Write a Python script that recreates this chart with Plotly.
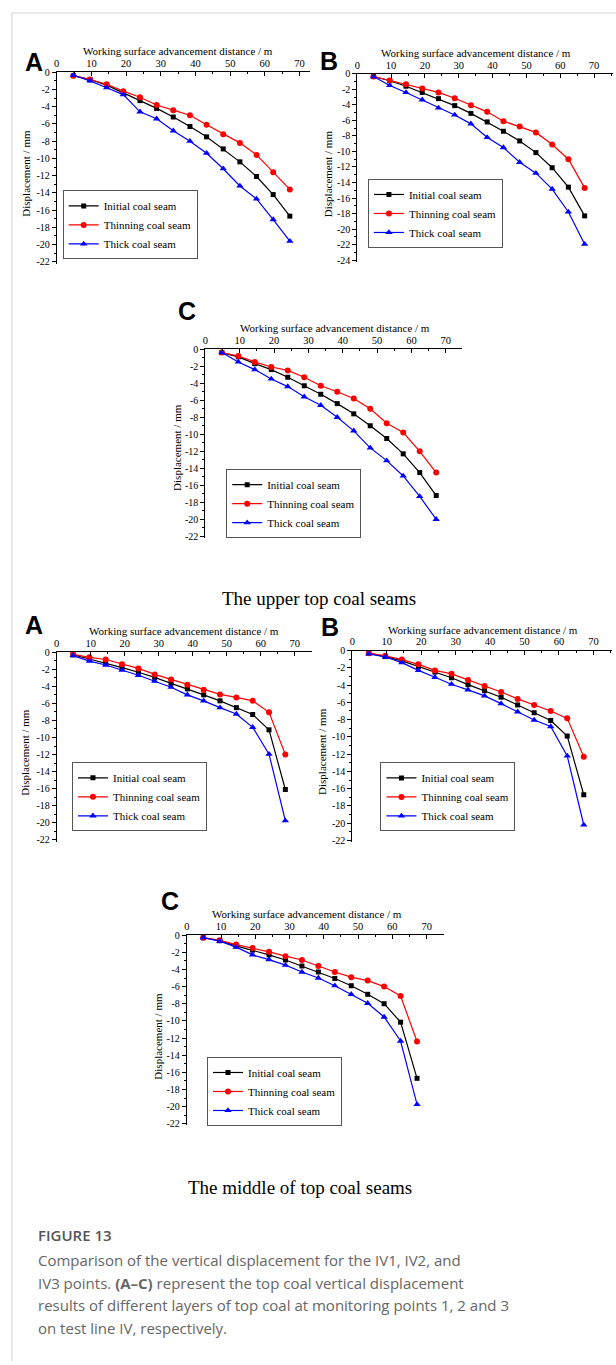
import plotly.graph_objects as go

W, H = 616, 1365

# ---------------- data ----------------
DIST = [4.8, 9.6, 14.4, 19.2, 24.0, 28.8, 33.6, 38.4, 43.2, 48.0, 52.8, 57.6, 62.4, 67.2]
SERIES_NAMES = ["Initial coal seam", "Thinning coal seam", "Thick coal seam"]

UPPER_A_INITIAL = [-0.4, -0.85, -1.5, -2.4, -3.3, -4.2, -5.2, -6.3, -7.5, -8.9, -10.4, -12.1, -14.2, -16.7]
UPPER_A_THINNING = [-0.4, -0.85, -1.4, -2.2, -2.9, -3.8, -4.4, -5.0, -6.1, -7.2, -8.2, -9.6, -11.6, -13.6]
UPPER_A_THICK = [-0.35, -1.0, -1.8, -2.6, -4.6, -5.4, -6.8, -8.0, -9.4, -11.2, -13.2, -14.7, -17.1, -19.6]

UPPER_B_INITIAL = [-0.35, -0.9, -1.6, -2.4, -3.2, -4.1, -5.1, -6.2, -7.4, -8.65, -10.15, -12.1, -14.6, -18.3]
UPPER_B_THINNING = [-0.35, -0.85, -1.35, -1.9, -2.4, -3.15, -4.05, -4.9, -6.1, -6.8, -7.55, -9.1, -11.0, -14.7]
UPPER_B_THICK = [-0.35, -1.5, -2.4, -3.35, -4.4, -5.3, -6.45, -8.2, -9.5, -11.4, -12.8, -14.85, -17.8, -21.95]

UPPER_C_INITIAL = [-0.4, -0.9, -1.7, -2.4, -3.3, -4.3, -5.3, -6.4, -7.6, -9.0, -10.5, -12.3, -14.5, -17.2]
UPPER_C_THINNING = [-0.4, -0.8, -1.5, -2.1, -2.5, -3.3, -4.3, -5.0, -5.8, -7.0, -8.7, -9.8, -12.0, -14.5]
UPPER_C_THICK = [-0.4, -1.5, -2.4, -3.5, -4.4, -5.6, -6.6, -8.0, -9.6, -11.6, -13.1, -14.9, -17.3, -20.0]

MIDDLE_A_INITIAL = [-0.3, -0.8, -1.25, -1.8, -2.35, -2.95, -3.65, -4.3, -5.0, -5.7, -6.5, -7.3, -9.1, -16.1]
MIDDLE_A_THINNING = [-0.25, -0.6, -0.85, -1.4, -1.9, -2.6, -3.2, -3.8, -4.4, -4.95, -5.3, -5.7, -7.05, -12.0]
MIDDLE_A_THICK = [-0.4, -1.05, -1.5, -2.1, -2.7, -3.4, -4.1, -5.0, -5.7, -6.5, -7.25, -8.8, -11.95, -19.75]

MIDDLE_B_INITIAL = [-0.3, -0.7, -1.2, -1.85, -2.5, -3.15, -3.95, -4.65, -5.4, -6.3, -7.2, -8.1, -9.9, -16.7]
MIDDLE_B_THINNING = [-0.3, -0.6, -1.05, -1.6, -2.3, -2.7, -3.4, -4.1, -4.8, -5.6, -6.3, -7.0, -7.85, -12.3]
MIDDLE_B_THICK = [-0.4, -0.75, -1.4, -2.3, -3.1, -3.9, -4.55, -5.25, -6.15, -7.1, -8.05, -8.8, -12.2, -20.2]

MIDDLE_C_INITIAL = [-0.3, -0.65, -1.25, -1.75, -2.3, -2.9, -3.6, -4.3, -5.05, -5.9, -6.9, -8.0, -10.15, -16.7]
MIDDLE_C_THINNING = [-0.3, -0.6, -1.1, -1.5, -1.95, -2.45, -2.9, -3.6, -4.3, -4.9, -5.3, -6.0, -7.1, -12.4]
MIDDLE_C_THICK = [-0.3, -0.7, -1.4, -2.3, -2.85, -3.5, -4.3, -5.0, -5.9, -6.9, -7.95, -9.55, -12.35, -19.75]

X_TICK_VALUES = [0, 10, 20, 30, 40, 50, 60, 70]
X_TICK_LABELS = ["0", "10", "20", "30", "40", "50", "60", "70"]
Y_TICK_VALUES_22 = [0, -2, -4, -6, -8, -10, -12, -14, -16, -18, -20, -22]
Y_TICK_LABELS_22 = ["0", "-2", "-4", "-6", "-8", "-10", "-12", "-14", "-16", "-18", "-20", "-22"]
Y_TICK_VALUES_24 = [0, -2, -4, -6, -8, -10, -12, -14, -16, -18, -20, -22, -24]
Y_TICK_LABELS_24 = ["0", "-2", "-4", "-6", "-8", "-10", "-12", "-14", "-16", "-18", "-20", "-22", "-24"]

PANEL_LABELS = ["A", "B", "C", "A", "B", "C"]
GROUP_TITLES = ["The upper top coal seams", "The middle of top coal seams"]
X_TITLE = "Working surface advancement distance / m"
Y_TITLE = "Displacement / mm"
CAPTION_HEAD = "FIGURE 13"
CAPTION_LINES = [
    "Comparison of the vertical displacement for the IV1, IV2, and",
    "IV3 points. <b>(A\u2013C)</b> represent the top coal vertical displacement",
    "results of different layers of top coal at monitoring points 1, 2 and 3",
    "on test line IV, respectively.",
]

PANEL_DATA = [
    (UPPER_A_INITIAL, UPPER_A_THINNING, UPPER_A_THICK),
    (UPPER_B_INITIAL, UPPER_B_THINNING, UPPER_B_THICK),
    (UPPER_C_INITIAL, UPPER_C_THINNING, UPPER_C_THICK),
    (MIDDLE_A_INITIAL, MIDDLE_A_THINNING, MIDDLE_A_THICK),
    (MIDDLE_B_INITIAL, MIDDLE_B_THINNING, MIDDLE_B_THICK),
    (MIDDLE_C_INITIAL, MIDDLE_C_THINNING, MIDDLE_C_THICK),
]
PANEL_YTICKS = [
    (Y_TICK_VALUES_22, Y_TICK_LABELS_22),
    (Y_TICK_VALUES_24, Y_TICK_LABELS_24),
    (Y_TICK_VALUES_22, Y_TICK_LABELS_22),
    (Y_TICK_VALUES_22, Y_TICK_LABELS_22),
    (Y_TICK_VALUES_22, Y_TICK_LABELS_22),
    (Y_TICK_VALUES_22, Y_TICK_LABELS_22),
]

# ---------------- layout geometry (pixels) ----------------
GEOM = [
    dict(x0=54.0, xpp=244 / 70, xmax=73.0, y0=66.7, ypp=191 / 22, ymin=-22.2,
         leg=(60, 220.5), xt=176, yt=(23, 168), lab=(31, 56)),
    dict(x0=356.0, xpp=238 / 70, xmax=75.5, y0=68.3, ypp=187.7 / 24, ymin=-24.2,
         leg=(366.7, 209), xt=475, yt=(326, 169), lab=(328, 55)),
    dict(x0=203.3, xpp=241.7 / 70, xmax=74.8, y0=345.7, ypp=188.6 / 22, ymin=-22.2,
         leg=(224.3, 501.3), xt=334, yt=(175, 445), lab=(185, 307)),
    dict(x0=54.0, xpp=239.3 / 70, xmax=75.0, y0=651.0, ypp=189 / 22, ymin=-22.2,
         leg=(69.3, 796.7), xt=182, yt=(22.7, 751.7), lab=(31, 624)),
    dict(x0=351.0, xpp=242.3 / 70, xmax=75.5, y0=649.3, ypp=191.4 / 22, ymin=-22.2,
         leg=(379.3, 796.8), xt=482, yt=(321, 751), lab=(329, 626)),
    dict(x0=184.7, xpp=241 / 70, xmax=75.0, y0=936.0, ypp=190 / 22, ymin=-22.2,
         leg=(205, 1093.5), xt=305, yt=(156, 1038), lab=(168, 902)),
]
GROUP_TITLE_POS = [(318, 597), (298, 1190)]

COLORS = ["#000000", "#ff0000", "#0000ff"]
SYMBOLS = ["square", "circle", "triangle-up"]
MSIZES = [5, 6, 6.5]
SERIF = "Liberation Serif, Times New Roman, serif"
SANS = "Liberation Sans, Arial, sans-serif"


def fx(px):
    return px / W


def fy(py):
    return 1 - py / H


fig = go.Figure()
layout = dict(
    width=W, height=H, margin=dict(l=0, r=0, t=0, b=0),
    paper_bgcolor="white", plot_bgcolor="white", showlegend=True,
)
annotations = []

for i, (g, data, (ytv, ytl)) in enumerate(zip(GEOM, PANEL_DATA, PANEL_YTICKS)):
    n = i + 1
    xk = "xaxis" if n == 1 else f"xaxis{n}"
    yk = "yaxis" if n == 1 else f"yaxis{n}"
    xr = "x" if n == 1 else f"x{n}"
    yr = "y" if n == 1 else f"y{n}"
    lk = "legend" if n == 1 else f"legend{n}"

    for name, vals, col, sym, ms in zip(SERIES_NAMES, data, COLORS, SYMBOLS, MSIZES):
        fig.add_trace(go.Scatter(
            x=DIST, y=vals, name=name, mode="lines+markers",
            line=dict(color=col, width=1.2),
            marker=dict(color=col, symbol=sym, size=ms),
            xaxis=xr, yaxis=yr, legend=lk, cliponaxis=False,
        ))

    x_end = g["x0"] + g["xmax"] * g["xpp"]
    y_end = g["y0"] - g["ymin"] * g["ypp"]
    layout[xk] = dict(
        domain=[fx(g["x0"]), min(fx(x_end), 1.0)], range=[0, g["xmax"]],
        anchor=yr, side="top", showline=True, linecolor="black", linewidth=1,
        showgrid=False, zeroline=False, ticks="inside", ticklen=4, tickcolor="black",
        tickmode="array", tickvals=X_TICK_VALUES, ticktext=X_TICK_LABELS,
        tickfont=dict(family=SERIF, size=10.5, color="black"),
        minor=dict(ticks="inside", ticklen=2, tickmode="linear", tick0=0, dtick=5,
                   tickcolor="black", showgrid=False),
        fixedrange=True,
    )
    layout[yk] = dict(
        domain=[fy(y_end), fy(g["y0"])], range=[g["ymin"], 0],
        anchor=xr, showline=True, linecolor="black", linewidth=1,
        showgrid=False, zeroline=False, ticks="outside", ticklen=4, tickcolor="black",
        tickmode="array", tickvals=ytv, ticktext=ytl,
        tickfont=dict(family=SERIF, size=10, color="black"),
        minor=dict(ticks="outside", ticklen=2, tickmode="linear", tick0=0, dtick=1,
                   tickcolor="black", showgrid=False),
        fixedrange=True,
    )
    layout[lk] = dict(
        x=fx(g["leg"][0]), y=fy(g["leg"][1]), xanchor="left", yanchor="middle",
        xref="paper", yref="paper",
        bgcolor="rgba(255,255,255,0)", bordercolor="#555555", borderwidth=1,
        font=dict(family=SERIF, size=11, color="black"), itemwidth=30,
        tracegroupgap=0,
    )
    annotations.append(dict(
        text=X_TITLE, x=fx(g["xt"]), y=fy(g["y0"] - 21), xref="paper", yref="paper",
        showarrow=False, xanchor="center", yanchor="middle",
        font=dict(family=SERIF, size=11, color="black"),
    ))
    annotations.append(dict(
        text=Y_TITLE, x=fx(g["yt"][0]), y=fy(g["yt"][1]), xref="paper", yref="paper",
        showarrow=False, xanchor="center", yanchor="middle", textangle=-90,
        font=dict(family=SERIF, size=11, color="black"),
    ))
    annotations.append(dict(
        text=f"<b>{PANEL_LABELS[i]}</b>", x=fx(g["lab"][0]), y=fy(g["lab"][1]),
        xref="paper", yref="paper", showarrow=False, xanchor="center", yanchor="middle",
        font=dict(family=SANS, size=25, color="black"),
    ))

for t, (tx, ty) in zip(GROUP_TITLES, GROUP_TITLE_POS):
    annotations.append(dict(
        text=t, x=fx(tx), y=fy(ty), xref="paper", yref="paper", showarrow=False,
        xanchor="center", yanchor="middle",
        font=dict(family=SERIF, size=19, color="black"),
    ))

CAP_FONT = "Open Sans, Noto Sans, sans-serif"
annotations.append(dict(
    text=CAPTION_HEAD, x=fx(33), y=fy(1238), xref="paper", yref="paper",
    showarrow=False, xanchor="left", yanchor="middle",
    font=dict(family=CAP_FONT, size=15, color="#555555", weight=600),
))
for k, line in enumerate(CAPTION_LINES):
    annotations.append(dict(
        text=line, x=fx(33), y=fy(1263 + 23 * k), xref="paper", yref="paper",
        showarrow=False, xanchor="left", yanchor="middle",
        font=dict(family=CAP_FONT, size=15, color="#666666"),
    ))

layout["annotations"] = annotations
layout["shapes"] = [
    dict(type="line", xref="paper", yref="paper", x0=fx(9), x1=1, y0=fy(7), y1=fy(7),
         line=dict(color="#d4d4d4", width=1)),
    dict(type="line", xref="paper", yref="paper", x0=fx(9), x1=fx(9), y0=fy(7), y1=0,
         line=dict(color="#d4d4d4", width=1)),
]
fig.update_layout(**layout)
fig.write_html("out.html")
